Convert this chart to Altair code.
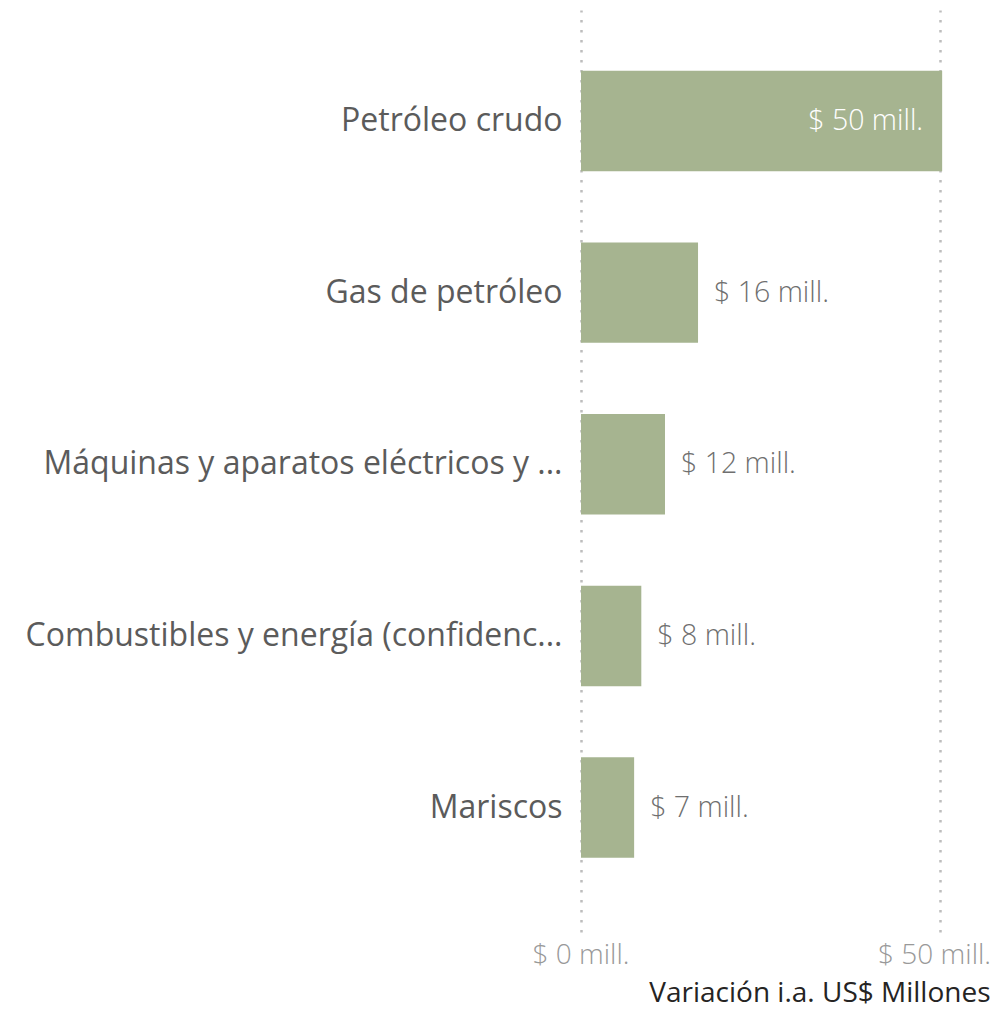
import altair as alt
import pandas as pd

categories = [
    "Petróleo crudo",
    "Gas de petróleo",
    "Máquinas y aparatos eléctricos y ...",
    "Combustibles y energía (confidenc...",
    "Mariscos",
]
values = [50.3, 16.3, 11.7, 8.4, 7.4]
x_ticks = [0, 50]

df = pd.DataFrame({"cat": categories, "v": values})
ticks_df = pd.DataFrame({"t": x_ticks})

FONT = "Open Sans"
BAR = "#A6B490"

x_scale = alt.Scale(domain=[0, 50], nice=False)

y_enc = alt.Y(
    "cat:N",
    sort=categories,
    title=None,
    scale=alt.Scale(paddingInner=0.415, paddingOuter=0.393, align=0.45, round=False),
    axis=alt.Axis(
        domain=False,
        ticks=False,
        labelPadding=19,
        labelFont=FONT,
        labelFontSize=32,
        labelColor="#5b5b5b",
        labelLimit=1000,
    ),
)
x_enc = alt.X(
    "v:Q",
    scale=x_scale,
    axis=alt.Axis(
        values=x_ticks,
        domain=False,
        ticks=False,
        grid=True,
        gridColor="#BDBDBD",
        gridWidth=2.5,
        gridDash=[2.5, 7.5],
        labels=False,
        title="Variación i.a. US$ Millones",
        titleFont=FONT,
        titleFontSize=28,
        titleFontWeight="normal",
        titleColor="#252423",
        titleAnchor="end",
        titleAlign="right",
        titleBaseline="alphabetic",
        titleX=409,
        titleY=69,
    ),
)

base = alt.Chart(df).encode(y=y_enc)

bars = base.mark_bar(color=BAR).encode(x=x_enc)

lab = base.transform_calculate(
    txt="'$ ' + format(datum.v, '.0f') + ' mill.'"
)
inside = lab.transform_filter("datum.v >= 30").mark_text(
    align="right", baseline="middle", dx=-19, font=FONT, fontSize=28.5,
    fontWeight=300, color="#FFFFFF"
).encode(x=alt.X("v:Q", scale=x_scale), text="txt:N")
outside = lab.transform_filter("datum.v < 30").mark_text(
    align="left", baseline="middle", dx=16, font=FONT, fontSize=28.5,
    fontWeight=300, color="#6f6f6f"
).encode(x=alt.X("v:Q", scale=x_scale), text="txt:N")

tick_base = alt.Chart(ticks_df).transform_calculate(
    txt="'$ ' + datum.t + ' mill.'"
)
tick0 = tick_base.transform_filter("datum.t == 0").mark_text(
    align="center", baseline="alphabetic", font=FONT, fontSize=28,
    fontWeight=300, color="#999999"
).encode(x=alt.X("t:Q", scale=x_scale), y=alt.value(954), text="txt:N")
tick50 = tick_base.transform_filter("datum.t == 50").mark_text(
    align="right", baseline="alphabetic", dx=51, font=FONT, fontSize=28,
    fontWeight=300, color="#999999"
).encode(x=alt.X("t:Q", scale=x_scale), y=alt.value(954), text="txt:N")

chart = (
    alt.layer(bars, inside, outside, tick0, tick50)
    .properties(
        width=359,
        height=922,
        autosize=alt.AutoSizeParams(type="none"),
        padding={"left": 573, "top": 2, "right": 52, "bottom": 76},
    )
    .configure_view(stroke=None)
)

chart.save("out.html", embed_options={"renderer": "svg", "actions": False})
